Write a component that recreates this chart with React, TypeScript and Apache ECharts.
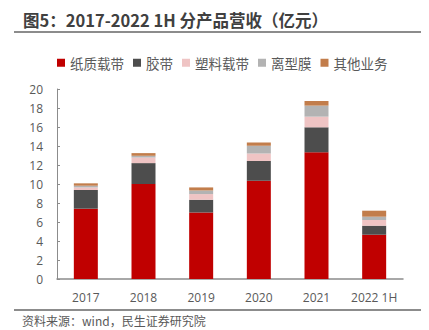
import React, { useEffect, useRef } from "react";
import * as echarts from "echarts";

const categories = ["2017", "2018", "2019", "2020", "2021", "2022 1H"];
const paperTape = [7.4, 10.0, 7.0, 10.35, 13.34, 4.66];
const adhesiveTape = [1.97, 2.2, 1.34, 2.07, 2.63, 0.95];
const plasticTape = [0.27, 0.59, 0.6, 0.8, 1.12, 0.6];
const releaseFilm = [0.18, 0.18, 0.38, 0.8, 1.16, 0.35];
const otherBiz = [0.25, 0.28, 0.32, 0.36, 0.49, 0.63];
const yTicks = { min: 0, max: 20, interval: 2 };

const seriesDefs = [
  { name: "纸质载带", data: paperTape, color: "#C00000" },
  { name: "胶带", data: adhesiveTape, color: "#4D4D4D" },
  { name: "塑料载带", data: plasticTape, color: "#EFC4C4" },
  { name: "离型膜", data: releaseFilm, color: "#B3B3B3" },
  { name: "其他业务", data: otherBiz, color: "#C27D4B" },
];

const FONT = "Noto Sans CJK SC";
const NUM_FONT = "Open Sans";

export default function App() {
  const ref = useRef<HTMLDivElement>(null);
  useEffect(() => {
    if (!ref.current) return;
    const chart = echarts.init(ref.current, undefined, { renderer: "svg" });
    chart.setOption({
      animation: false,
      backgroundColor: "#ffffff",
      textStyle: { fontFamily: FONT },
      grid: { left: 57, right: 26, top: 89, bottom: 51 },
      legend: {
        top: 51,
        left: 52,
        itemWidth: 8,
        itemHeight: 8,
        itemGap: 9,
        icon: "rect",
        textStyle: { color: "#595959", fontSize: 13.5, fontFamily: FONT },
        data: seriesDefs.map((s) => s.name),
      },
      xAxis: {
        type: "category",
        data: categories,
        axisLine: { lineStyle: { color: "#8C8C8C", width: 1.5 } },
        axisTick: { show: false },
        axisLabel: { color: "#595959", fontSize: 12, margin: 12, interval: 0, fontFamily: NUM_FONT },
      },
      yAxis: {
        type: "value",
        min: yTicks.min,
        max: yTicks.max,
        interval: yTicks.interval,
        axisLine: { show: true, lineStyle: { color: "#8C8C8C", width: 1 } },
        axisTick: { show: true, inside: true, length: 3, lineStyle: { color: "#8C8C8C" } },
        splitLine: { show: false },
        axisLabel: { color: "#595959", fontSize: 12, margin: 14, fontFamily: NUM_FONT },
      },
      series: seriesDefs.map((s) => ({
        name: s.name,
        type: "bar",
        stack: "total",
        barWidth: 24,
        data: s.data,
        itemStyle: { color: s.color },
      })),
      graphic: [
        {
          type: "text",
          left: 23,
          top: 12,
          style: {
            text: "图5：2017-2022 1H 分产品营收（亿元）",
            fill: "#404040",
            fontWeight: "bold",
            fontSize: 16.5,
            fontFamily: FONT,
          },
        },
        {
          type: "line",
          shape: { x1: 14, y1: 32, x2: 421, y2: 32 },
          style: { stroke: "#666666", lineWidth: 1.5 },
        },
        {
          type: "line",
          shape: { x1: 14, y1: 310, x2: 421, y2: 310 },
          style: { stroke: "#666666", lineWidth: 1.5 },
        },
        {
          type: "text",
          left: 22,
          top: 314,
          style: {
            text: "资料来源：wind，民生证券研究院",
            fill: "#595959",
            fontSize: 12,
            fontFamily: FONT,
          },
        },
      ],
    });
    return () => chart.dispose();
  }, []);
  return (
    <div
      ref={ref}
      style={{ position: "fixed", left: 0, top: 0, width: 429, height: 330 }}
    />
  );
}
